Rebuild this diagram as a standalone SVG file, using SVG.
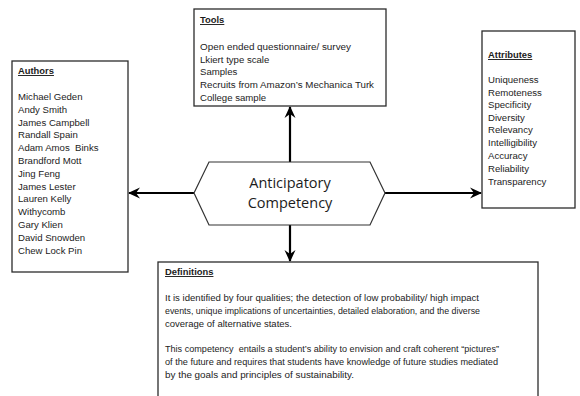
<svg xmlns="http://www.w3.org/2000/svg" width="580" height="396" viewBox="0 0 580 396">
  <style>
    .box { fill: #ffffff; stroke: #2b2b2b; stroke-width: 1.3; }
    .hex { fill: #ffffff; stroke: #333333; stroke-width: 1.2; }
    .conn { fill: none; stroke: #000000; stroke-width: 2.2; }
    .t { font-family: "Liberation Sans", Arial, sans-serif; font-size: 9.6px; fill: #1c1c1c; }
    .d { font-family: "Liberation Sans", Arial, sans-serif; font-size: 9px; fill: #1c1c1c; }
    .h { font-family: "Liberation Sans", Arial, sans-serif; font-size: 9.4px; font-weight: bold; fill: #1c1c1c; text-decoration: underline; }
    .title { font-family: "Open Sans", "Liberation Sans", sans-serif; font-size: 14.5px; fill: #1c1c1c; text-anchor: middle; }
  </style>
  <defs>
    <marker id="arrow" viewBox="0 0 12 12" refX="11" refY="6" markerWidth="12" markerHeight="12" markerUnits="userSpaceOnUse" orient="auto">
      <path d="M0,0.5 L12,6 L0,11.5 L4,6 Z" fill="#000000"/>
    </marker>
  </defs>
  <rect width="580" height="396" fill="#ffffff"/>

  <!-- connectors from the central hexagon -->
  <g id="connectors">
    <line class="conn" x1="290" y1="162" x2="290" y2="107" marker-end="url(#arrow)"/>
    <line class="conn" x1="194" y1="193" x2="129" y2="193" marker-end="url(#arrow)"/>
    <line class="conn" x1="385" y1="193" x2="481" y2="193" marker-end="url(#arrow)"/>
    <line class="conn" x1="290" y1="225" x2="290" y2="261" marker-end="url(#arrow)"/>
  </g>

  <g id="center">
    <polygon class="hex" points="194,193 209,162 370,162 385,193 370,225 209,225"/>
    <text class="title" x="290" y="188">Anticipatory</text>
    <text class="title" x="290" y="208">Competency</text>
  </g>

  <g id="tools">
    <rect class="box" x="194" y="9" width="192" height="97"/>
    <text class="h" x="200" y="23">Tools</text>
    <text class="t" x="200" y="50" textLength="151" lengthAdjust="spacingAndGlyphs">Open ended questionnaire/ survey</text>
    <text class="t" x="200" y="63">Lkiert type scale</text>
    <text class="t" x="200" y="75">Samples</text>
    <text class="t" x="200" y="88" textLength="174" lengthAdjust="spacingAndGlyphs">Recruits from Amazon’s Mechanica Turk</text>
    <text class="t" x="200" y="101">College sample</text>
  </g>

  <g id="authors">
    <rect class="box" x="12" y="61" width="116" height="211"/>
    <text class="h" x="18" y="74">Authors</text>
    <text class="t" x="18" y="100">Michael Geden</text>
    <text class="t" x="18" y="113">Andy Smith</text>
    <text class="t" x="18" y="125.5">James Campbell</text>
    <text class="t" x="18" y="138">Randall Spain</text>
    <text class="t" x="18" y="151">Adam Amos&#160; Binks</text>
    <text class="t" x="18" y="164">Brandford Mott</text>
    <text class="t" x="18" y="177">Jing Feng</text>
    <text class="t" x="18" y="189.5">James Lester</text>
    <text class="t" x="18" y="202">Lauren Kelly</text>
    <text class="t" x="18" y="215">Withycomb</text>
    <text class="t" x="18" y="228">Gary Klien</text>
    <text class="t" x="18" y="241">David Snowden</text>
    <text class="t" x="18" y="253.5">Chew Lock Pin</text>
  </g>

  <g id="attributes">
    <rect class="box" x="482" y="31" width="93" height="177"/>
    <text class="h" x="488" y="58">Attributes</text>
    <text class="t" x="488" y="83">Uniqueness</text>
    <text class="t" x="488" y="95.5">Remoteness</text>
    <text class="t" x="488" y="108">Specificity</text>
    <text class="t" x="488" y="120.5">Diversity</text>
    <text class="t" x="488" y="133">Relevancy</text>
    <text class="t" x="488" y="146">Intelligibility</text>
    <text class="t" x="488" y="159">Accuracy</text>
    <text class="t" x="488" y="172">Reliability</text>
    <text class="t" x="488" y="185">Transparency</text>
  </g>

  <g id="definitions">
    <rect class="box" x="158" y="262" width="380" height="150"/>
    <text class="h" x="165" y="275">Definitions</text>
    <text class="d" x="165" y="301" textLength="314" lengthAdjust="spacingAndGlyphs">It is identified by four qualities; the detection of low probability/ high impact</text>
    <text class="d" x="165" y="314" textLength="315" lengthAdjust="spacingAndGlyphs">events, unique implications of uncertainties, detailed elaboration, and the diverse</text>
    <text class="d" x="165" y="327" textLength="127" lengthAdjust="spacingAndGlyphs">coverage of alternative states.</text>
    <text class="d" x="165" y="352" textLength="334" lengthAdjust="spacingAndGlyphs">This competency&#160; entails a student’s ability to envision and craft coherent “pictures”</text>
    <text class="d" x="165" y="365" textLength="333" lengthAdjust="spacingAndGlyphs">of the future and requires that students have knowledge of future studies mediated</text>
    <text class="d" x="165" y="378" textLength="189" lengthAdjust="spacingAndGlyphs">by the goals and principles of sustainability.</text>
  </g>
</svg>
